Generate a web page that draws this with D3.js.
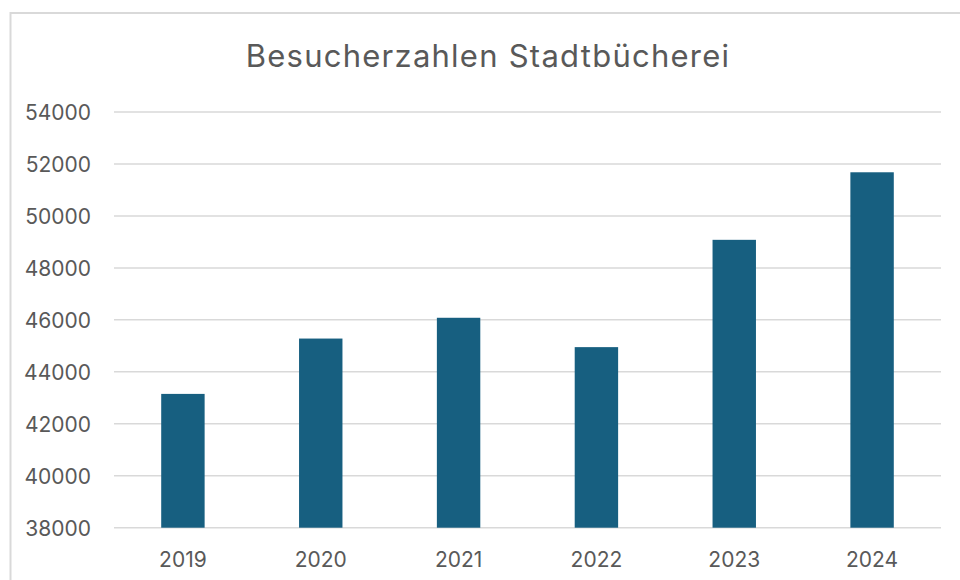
<!DOCTYPE html>
<html>
<head>
<meta charset="utf-8">
<script src="https://cdn.jsdelivr.net/npm/d3@7"></script>
<style>
  html, body { margin: 0; padding: 0; background: #ffffff; }
  svg { display: block; }
</style>
</head>
<body>
<svg id="chart" width="960" height="580"></svg>
<script>
const title = "Besucherzahlen Stadtbücherei";
const years = ["2019", "2020", "2021", "2022", "2023", "2024"];
const visitors = [43150, 45280, 46080, 44950, 49080, 51680];
const yTicks = [38000, 40000, 42000, 44000, 46000, 48000, 50000, 52000, 54000];

const svg = d3.select("#chart");
const font = "Inter, 'Open Sans', sans-serif";
const textColor = "#595959";
const gridColor = "#d9d9d9";
const barColor = "#175f80";

// outer frame
svg.append("rect")
  .attr("x", 10.5).attr("y", 13)
  .attr("width", 980).attr("height", 600)
  .attr("fill", "none")
  .attr("stroke", gridColor)
  .attr("stroke-width", 2);

const plot = { left: 114, right: 941, top: 112, bottom: 527.7 };

const x = d3.scaleBand()
  .domain(years)
  .range([plot.left, plot.right])
  .padding(0);

const y = d3.scaleLinear()
  .domain([38000, 54000])
  .range([plot.bottom, plot.top]);

// gridlines
svg.append("g")
  .selectAll("line")
  .data(yTicks)
  .join("line")
  .attr("x1", plot.left).attr("x2", plot.right)
  .attr("y1", d => y(d)).attr("y2", d => y(d))
  .attr("stroke", gridColor)
  .attr("stroke-width", 1.5);

// y axis labels
const yAxis = d3.axisLeft(y).tickValues(yTicks).tickSize(0).tickPadding(0).tickFormat(d3.format("d"));
const gy = svg.append("g").attr("transform", `translate(91,0)`).call(yAxis);
gy.select(".domain").remove();
gy.selectAll("text")
  .attr("fill", textColor)
  .attr("font-family", font)
  .attr("font-size", 21)
  .attr("dy", "0.35em");

// bars
const barFrac = 0.315;
svg.append("g")
  .selectAll("rect")
  .data(years.map((yr, i) => ({ yr, v: visitors[i] })))
  .join("rect")
  .attr("x", d => x(d.yr) + x.bandwidth() * (1 - barFrac) / 2)
  .attr("width", x.bandwidth() * barFrac)
  .attr("y", d => y(d.v))
  .attr("height", d => y(38000) - y(d.v))
  .attr("fill", barColor);

// x axis labels
const xAxis = d3.axisBottom(x).tickSize(0).tickPadding(0);
const gx = svg.append("g").attr("transform", `translate(0,566.5)`).call(xAxis);
gx.select(".domain").remove();
gx.selectAll("text")
  .attr("fill", textColor)
  .attr("font-family", font)
  .attr("font-size", 21)
  .attr("dy", 0);

// title
svg.append("text")
  .attr("x", 488)
  .attr("y", 66.5)
  .attr("text-anchor", "middle")
  .attr("fill", textColor)
  .attr("font-family", font)
  .attr("font-size", 31)
  .attr("letter-spacing", 1.25)
  .text(title);
</script>
</body>
</html>
